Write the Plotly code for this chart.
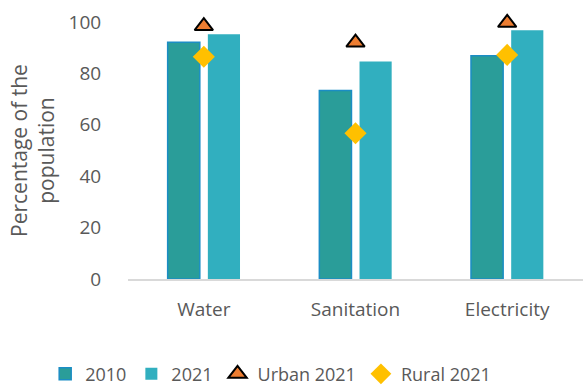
import plotly.graph_objects as go

# Access to basic services, share of the population (%)
categories = ["Water", "Sanitation", "Electricity"]
share_2010 = [92.1, 73.3, 86.9]
share_2021 = [95.2, 84.6, 96.8]
urban_2021 = [98.4, 92.0, 99.7]
rural_2021 = [86.5, 56.7, 87.2]
y_ticks = [0, 20, 40, 60, 80, 100]

FONT = "Open Sans, sans-serif"
GREY = "#595959"

fig = go.Figure()
fig.add_trace(go.Bar(
    x=categories, y=share_2010, name="2010",
    marker=dict(color="#2A9D99", line=dict(color="#1B8DC4", width=1.5)),
))
fig.add_trace(go.Bar(
    x=categories, y=share_2021, name="2021",
    marker=dict(color="#31AFBF", line=dict(color="#31AFBF", width=0)),
))
fig.add_trace(go.Scatter(
    x=categories, y=urban_2021, name="Urban 2021", mode="markers",
    marker=dict(symbol="triangle-up", size=16, color="#ED7D31",
                line=dict(color="#000000", width=2)),
    cliponaxis=False,
))
fig.add_trace(go.Scatter(
    x=categories, y=rural_2021, name="Rural 2021", mode="markers",
    marker=dict(symbol="diamond", size=17, color="#FFC000",
                line=dict(width=0)),
    cliponaxis=False,
))

fig.update_layout(
    width=583, height=385,
    margin=dict(l=128, r=0, t=22, b=106, autoexpand=False),
    paper_bgcolor="white", plot_bgcolor="white",
    font=dict(family=FONT, size=19, color=GREY),
    barmode="group", bargap=0.47, bargroupgap=0.2,
    showlegend=True,
    legend=dict(orientation="h", x=-0.182, xanchor="left",
                y=-0.37, yanchor="middle",
                font=dict(size=18, color=GREY),
                itemwidth=30, tracegroupgap=0, bgcolor="rgba(0,0,0,0)"),
    xaxis=dict(showgrid=False, showline=True, linecolor="#D9D9D9",
               linewidth=1.5, ticks="outside", ticklen=12,
               tickcolor="rgba(0,0,0,0)", tickfont=dict(size=19, color=GREY),
               zeroline=False),
    yaxis=dict(range=[0, 100], tickvals=y_ticks, showgrid=False,
               showline=False, zeroline=False, ticks="outside", ticklen=22,
               tickcolor="rgba(0,0,0,0)", tickfont=dict(size=19, color=GREY)),
    annotations=[dict(
        text="Percentage of the<br>population", textangle=-90,
        xref="paper", yref="paper", x=-0.21, y=0.5,
        xanchor="center", yanchor="middle", showarrow=False,
        font=dict(size=21, color=GREY),
    )],
)

fig.write_html("out.html")
